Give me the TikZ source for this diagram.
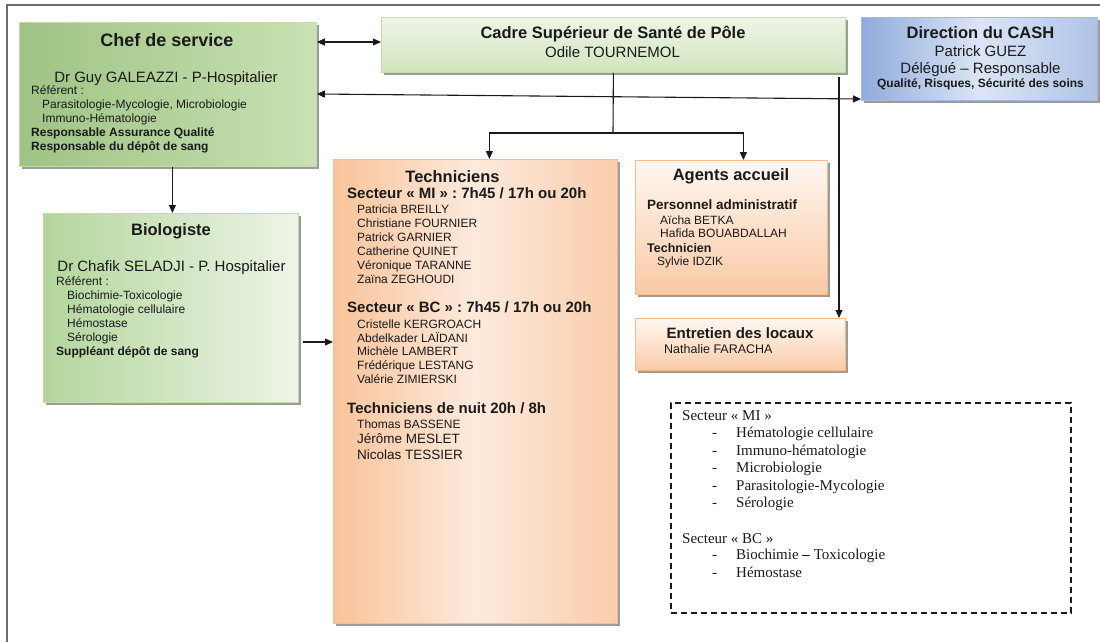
\documentclass[tikz,border=0pt]{standalone}
\usepackage{fontspec}
\setmainfont{Liberation Sans}
\newfontfamily\timesfont{Liberation Serif}
\usetikzlibrary{arrows.meta,shadows}

\definecolor{ink}{HTML}{1A1A1A}
\definecolor{frame}{HTML}{6E6E6E}
\definecolor{grnDark}{HTML}{A6CE8B}
\definecolor{grnMid}{HTML}{C9E1B3}
\definecolor{grnLight}{HTML}{EEF5E7}
\definecolor{grnEdge}{HTML}{C3DCAA}
\definecolor{orgDark}{HTML}{F8C39A}
\definecolor{orgLight}{HTML}{FDEADD}
\definecolor{orgPale}{HTML}{FFF7F1}
\definecolor{orgEdge}{HTML}{F5BC90}
\definecolor{bluDark}{HTML}{8FABDC}
\definecolor{bluLight}{HTML}{DCE5F4}
\definecolor{bluRight}{HTML}{AFC3E6}
\definecolor{bluEdge}{HTML}{A3B9E0}
\definecolor{shade}{HTML}{9C9C9C}

\tikzset{
  box/.style={rectangle, anchor=north west, inner sep=0pt, line width=0.8pt,
    drop shadow={shadow xshift=2.5pt, shadow yshift=-2.5pt, fill=shade, opacity=1}},
  conn/.style={draw=ink, line width=1.1pt},
  tip/.style={-{Triangle[length=8pt,width=7pt]}},
  tips/.style={{Triangle[length=8pt,width=7pt]}-{Triangle[length=8pt,width=7pt]}},
  txt/.style={inner sep=0pt, text=ink, anchor=base west},
  ctxt/.style={inner sep=0pt, text=ink, anchor=base},
  sm/.style={txt, font=\fontsize{12}{14}\selectfont},
  smb/.style={txt, font=\bfseries\fontsize{12}{14}\selectfont},
  med/.style={ctxt, font=\fontsize{15}{18}\selectfont},
  head/.style={ctxt, font=\bfseries\fontsize{16.5}{19}\selectfont},
  sub/.style={txt, font=\bfseries\fontsize{15}{18}\selectfont},
  serif/.style={txt, font=\timesfont\fontsize{15}{18}\selectfont},
}

\begin{document}
\begin{tikzpicture}[x=1pt, y=-1pt]
\useasboundingbox (0,0) rectangle (1100,642);

% page frame (top and left rules)
\draw[frame, line width=1.6pt] (7,642) -- (7,5) -- (1100,5);

% ---------- boxes ----------
\node[box, draw=grnEdge, left color=grnDark!95!black, right color=grnMid,
      minimum width=297pt, minimum height=144pt] (chef) at (19,22) {};
\node[box, draw=grnEdge, top color=grnLight, bottom color=grnMid!80!grnLight,
      minimum width=464pt, minimum height=55pt] (cadre) at (381,17) {};
\node[box, draw=bluEdge, left color=bluDark, right color=bluRight, middle color=bluLight,
      minimum width=236pt, minimum height=83pt] (cash) at (861,17) {};
\node[box, draw=grnEdge, left color=grnDark!85!white, right color=grnLight,
      minimum width=255pt, minimum height=189pt] (bio) at (43,213) {};
\node[box, draw=orgEdge, left color=orgDark, right color=orgDark!75!orgLight, middle color=orgLight,
      minimum width=284pt, minimum height=464pt] (tech) at (333,159) {};
\node[box, draw=orgEdge, top color=orgPale, bottom color=orgDark!85!orgLight,
      minimum width=192pt, minimum height=134pt] (agents) at (635,160) {};
\node[box, draw=orgEdge, top color=orgPale, bottom color=orgDark!80!orgLight,
      minimum width=210pt, minimum height=52pt] (entretien) at (635,318) {};
\node[rectangle, anchor=north west, draw=ink, dash pattern=on 6pt off 4pt, line width=1.5pt,
      minimum width=400pt, minimum height=210pt] (legend) at (670,402) {};

% ---------- Chef de service ----------
\node[head, font=\bfseries\fontsize{18}{21}\selectfont] (c1) at (167,47) {Chef de service};
\node[med] (c2) at (166,82) {Dr Guy GALEAZZI - P-Hospitalier};
\node[sm] (c3) at (31,94) {Référent :};
\node[sm] (c4) at (42,108) {Parasitologie-Mycologie, Microbiologie};
\node[sm] (c5) at (42,122) {Immuno-Hématologie};
\node[smb] (c6) at (31,136) {Responsable Assurance Qualité};
\node[smb] (c7) at (31,150) {Responsable du dépôt de sang};

% ---------- Cadre ----------
\node[head] (k1) at (613,39) {Cadre Supérieur de Santé de Pôle};
\node[med] (k2) at (612.5,58) {Odile TOURNEMOL};

% ---------- Direction du CASH ----------
\node[head] (d1) at (980.5,39) {Direction du CASH};
\node[med] (d2) at (980.5,57) {Patrick GUEZ};
\node[med] (d3) at (980.5,74) {Délégué – Responsable};
\node[ctxt, font=\bfseries\fontsize{12}{14}\selectfont] (d4) at (980.5,88) {Qualité, Risques, Sécurité des soins};

% ---------- Biologiste ----------
\node[head] (b1) at (171,235) {Biologiste};
\node[med] (b2) at (171.5,271) {Dr Chafik SELADJI - P. Hospitalier};
\node[sm] (b3) at (56,285) {Référent :};
\node[sm] (b4) at (67,299) {Biochimie-Toxicologie};
\node[sm] (b5) at (67,313) {Hématologie cellulaire};
\node[sm] (b6) at (67,327) {Hémostase};
\node[sm] (b7) at (67,341) {Sérologie};
\node[smb] (b8) at (56,355) {Suppléant dépôt de sang};

% ---------- Techniciens ----------
\node[head] (t0) at (452.5,182) {Techniciens};
\node[sub] (t1) at (347,198) {Secteur « MI » : 7h45 / 17h ou 20h};
\node[sm] (t2) at (357,213) {Patricia BREILLY};
\node[sm] (t3) at (357,227) {Christiane FOURNIER};
\node[sm] (t4) at (357,241) {Patrick GARNIER};
\node[sm] (t5) at (357,255) {Catherine QUINET};
\node[sm] (t6) at (357,269) {Véronique TARANNE};
\node[sm] (t7) at (357,283) {Zaïna ZEGHOUDI};
\node[sub] (t8) at (347,312) {Secteur « BC » : 7h45 / 17h ou 20h};
\node[sm] (t9) at (357,328) {Cristelle KERGROACH};
\node[sm] (t10) at (357,342) {Abdelkader LAÏDANI};
\node[sm] (t11) at (357,355) {Michèle LAMBERT};
\node[sm] (t12) at (357,369) {Frédérique LESTANG};
\node[sm] (t13) at (357,383) {Valérie ZIMIERSKI};
\node[sub] (t14) at (347,413) {Techniciens de nuit 20h / 8h};
\node[sm] (t15) at (357,428) {Thomas BASSENE};
\node[txt, font=\fontsize{13.5}{16}\selectfont] (t16) at (357,443) {Jérôme MESLET};
\node[txt, font=\fontsize{13.5}{16}\selectfont] (t17) at (357,459) {Nicolas TESSIER};

% ---------- Agents accueil ----------
\node[head] (a1) at (731,180) {Agents accueil};
\node[txt, font=\bfseries\fontsize{13.5}{16}\selectfont] (a2) at (647,209) {Personnel administratif};
\node[sm] (a3) at (660,224) {Aïcha BETKA};
\node[sm] (a4) at (660,237) {Hafida BOUABDALLAH};
\node[txt, font=\bfseries\fontsize{12.5}{15}\selectfont] (a5) at (647,252) {Technicien};
\node[sm] (a6) at (657,265) {Sylvie IDZIK};

% ---------- Entretien ----------
\node[ctxt, font=\bfseries\fontsize{15}{18}\selectfont] (e1) at (740,338) {Entretien des locaux};
\node[txt, font=\fontsize{12.5}{15}\selectfont] (e2) at (664,353) {Nathalie FARACHA};

% ---------- Sector legend ----------
\node[serif] (l0) at (682,420) {Secteur « MI »};
\foreach \y/\t [count=\i] in {437/Hématologie cellulaire, 455/Immuno-hématologie,
    472/Microbiologie, 490/Parasitologie-Mycologie, 507/Sérologie} {
  \node[serif] (lm\i) at (712,\y) {-};
  \node[serif] (li\i) at (736,\y) {\t};
}
\node[serif] (l1) at (682,543) {Secteur « BC »};
\node[serif] (lb1) at (712,559) {-};
\node[serif] (lc1) at (736,559) {Biochimie \textbf{–} Toxicologie};
\node[serif] (lb2) at (712,577) {-};
\node[serif] (lc2) at (736,577) {Hémostase};

% ---------- connectors ----------
\coordinate (rowA) at (0,42);
\coordinate (rowB) at (0,94);
\coordinate (rowC) at (0,99);
\coordinate (split) at (613,133);
\coordinate (tap) at (839,77);
\coordinate (rowD) at (0,342);

\draw[conn, tips] (chef.east |- rowA) -- (cadre.west |- rowA);
\draw[conn, tips] (chef.east |- rowB) -- (cash.west |- rowC);
\draw[conn] (cadre.south) -- (split);
\draw[conn, tip] (split) -| ([xshift=14pt]tech.north);
\draw[conn, tip] (split) -| ([xshift=12pt]agents.north);
\draw[conn, tip] (tap) -- (entretien.north -| tap);
\draw[conn, tip] ([xshift=4.5pt]chef.south) -- ([xshift=1.5pt]bio.north);
\draw[conn, tip] ([xshift=4pt]bio.east |- rowD) -- (tech.west |- rowD);
\end{tikzpicture}
\end{document}
